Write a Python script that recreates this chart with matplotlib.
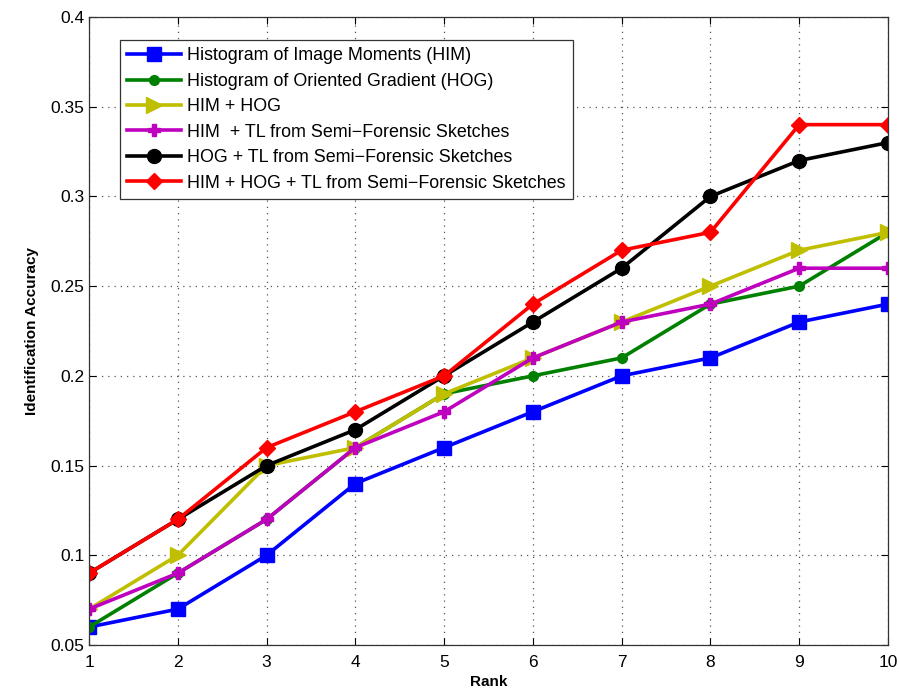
import matplotlib
matplotlib.use('Agg')
import matplotlib.pyplot as plt
import numpy as np

plt.rcParams['font.family'] = ['Liberation Sans', 'DejaVu Sans']

rank = np.arange(1, 11)

him = [0.06, 0.07, 0.10, 0.14, 0.16, 0.18, 0.20, 0.21, 0.23, 0.24]
hog = [0.06, 0.09, 0.12, 0.16, 0.19, 0.20, 0.21, 0.24, 0.25, 0.28]
him_hog = [0.07, 0.10, 0.15, 0.16, 0.19, 0.21, 0.23, 0.25, 0.27, 0.28]
him_tl = [0.07, 0.09, 0.12, 0.16, 0.18, 0.21, 0.23, 0.24, 0.26, 0.26]
hog_tl = [0.09, 0.12, 0.15, 0.17, 0.20, 0.23, 0.26, 0.30, 0.32, 0.33]
all_tl = [0.09, 0.12, 0.16, 0.18, 0.20, 0.24, 0.27, 0.28, 0.34, 0.34]

labels = ['Histogram of Image Moments (HIM)',
          'Histogram of Oriented Gradient (HOG)',
          'HIM + HOG',
          'HIM  + TL from Semi\u2212Forensic Sketches',
          'HOG + TL from Semi\u2212Forensic Sketches',
          'HIM + HOG + TL from Semi\u2212Forensic Sketches']

fig = plt.figure(figsize=(9, 6.96), dpi=100)
ax = fig.add_axes([89 / 900, 1 - 645 / 696, 799 / 900, 628 / 696])

# series: data, colour, marker, marker size
series = [
    (him, '#0000ff', 's', 9.5),
    (hog, '#008000', 'o', 7),
    (him_hog, '#bfbf00', '>', 11),
    (him_tl, '#bf00bf', 'P', 8),
    (hog_tl, 'black', 'o', 10),
    (all_tl, '#ff0000', 'D', 8),
]

for (vals, col, mk, ms), lab in zip(series, labels):
    ax.plot(rank, vals, color=col, marker=mk, markersize=ms, linewidth=2.6,
            label=lab, markeredgecolor=col, markerfacecolor=col)

ax.set_xlim(1, 10)
ax.set_ylim(0.05, 0.4)
ax.set_xticks(rank)
ax.set_yticks(np.arange(0.05, 0.401, 0.05))
ax.set_yticklabels(['0.05', '0.1', '0.15', '0.2', '0.25', '0.3', '0.35', '0.4'])
ax.grid(True, linestyle=(0, (1, 4)), color='#555555', linewidth=0.9)
ax.tick_params(direction='in', labelsize=12.5, top=True, right=True, length=5)
ax.tick_params(axis='x', pad=7)
for s in ax.spines.values():
    s.set_color('#333333')
    s.set_linewidth(0.9)

ax.set_xlabel('Rank', fontsize=11, fontweight='bold', labelpad=4)
ax.set_ylabel('Identification Accuracy', fontsize=11, fontweight='bold', labelpad=8)

leg = ax.legend(loc='upper left', bbox_to_anchor=(0.039, 0.963), fontsize=12.9,
                fancybox=False, edgecolor='#333333', framealpha=1,
                handlelength=3.0, borderpad=0.4, labelspacing=0.47, handletextpad=0.35,
                borderaxespad=0)
leg.get_frame().set_linewidth(0.9)

plt.savefig('out.png', dpi=100)
